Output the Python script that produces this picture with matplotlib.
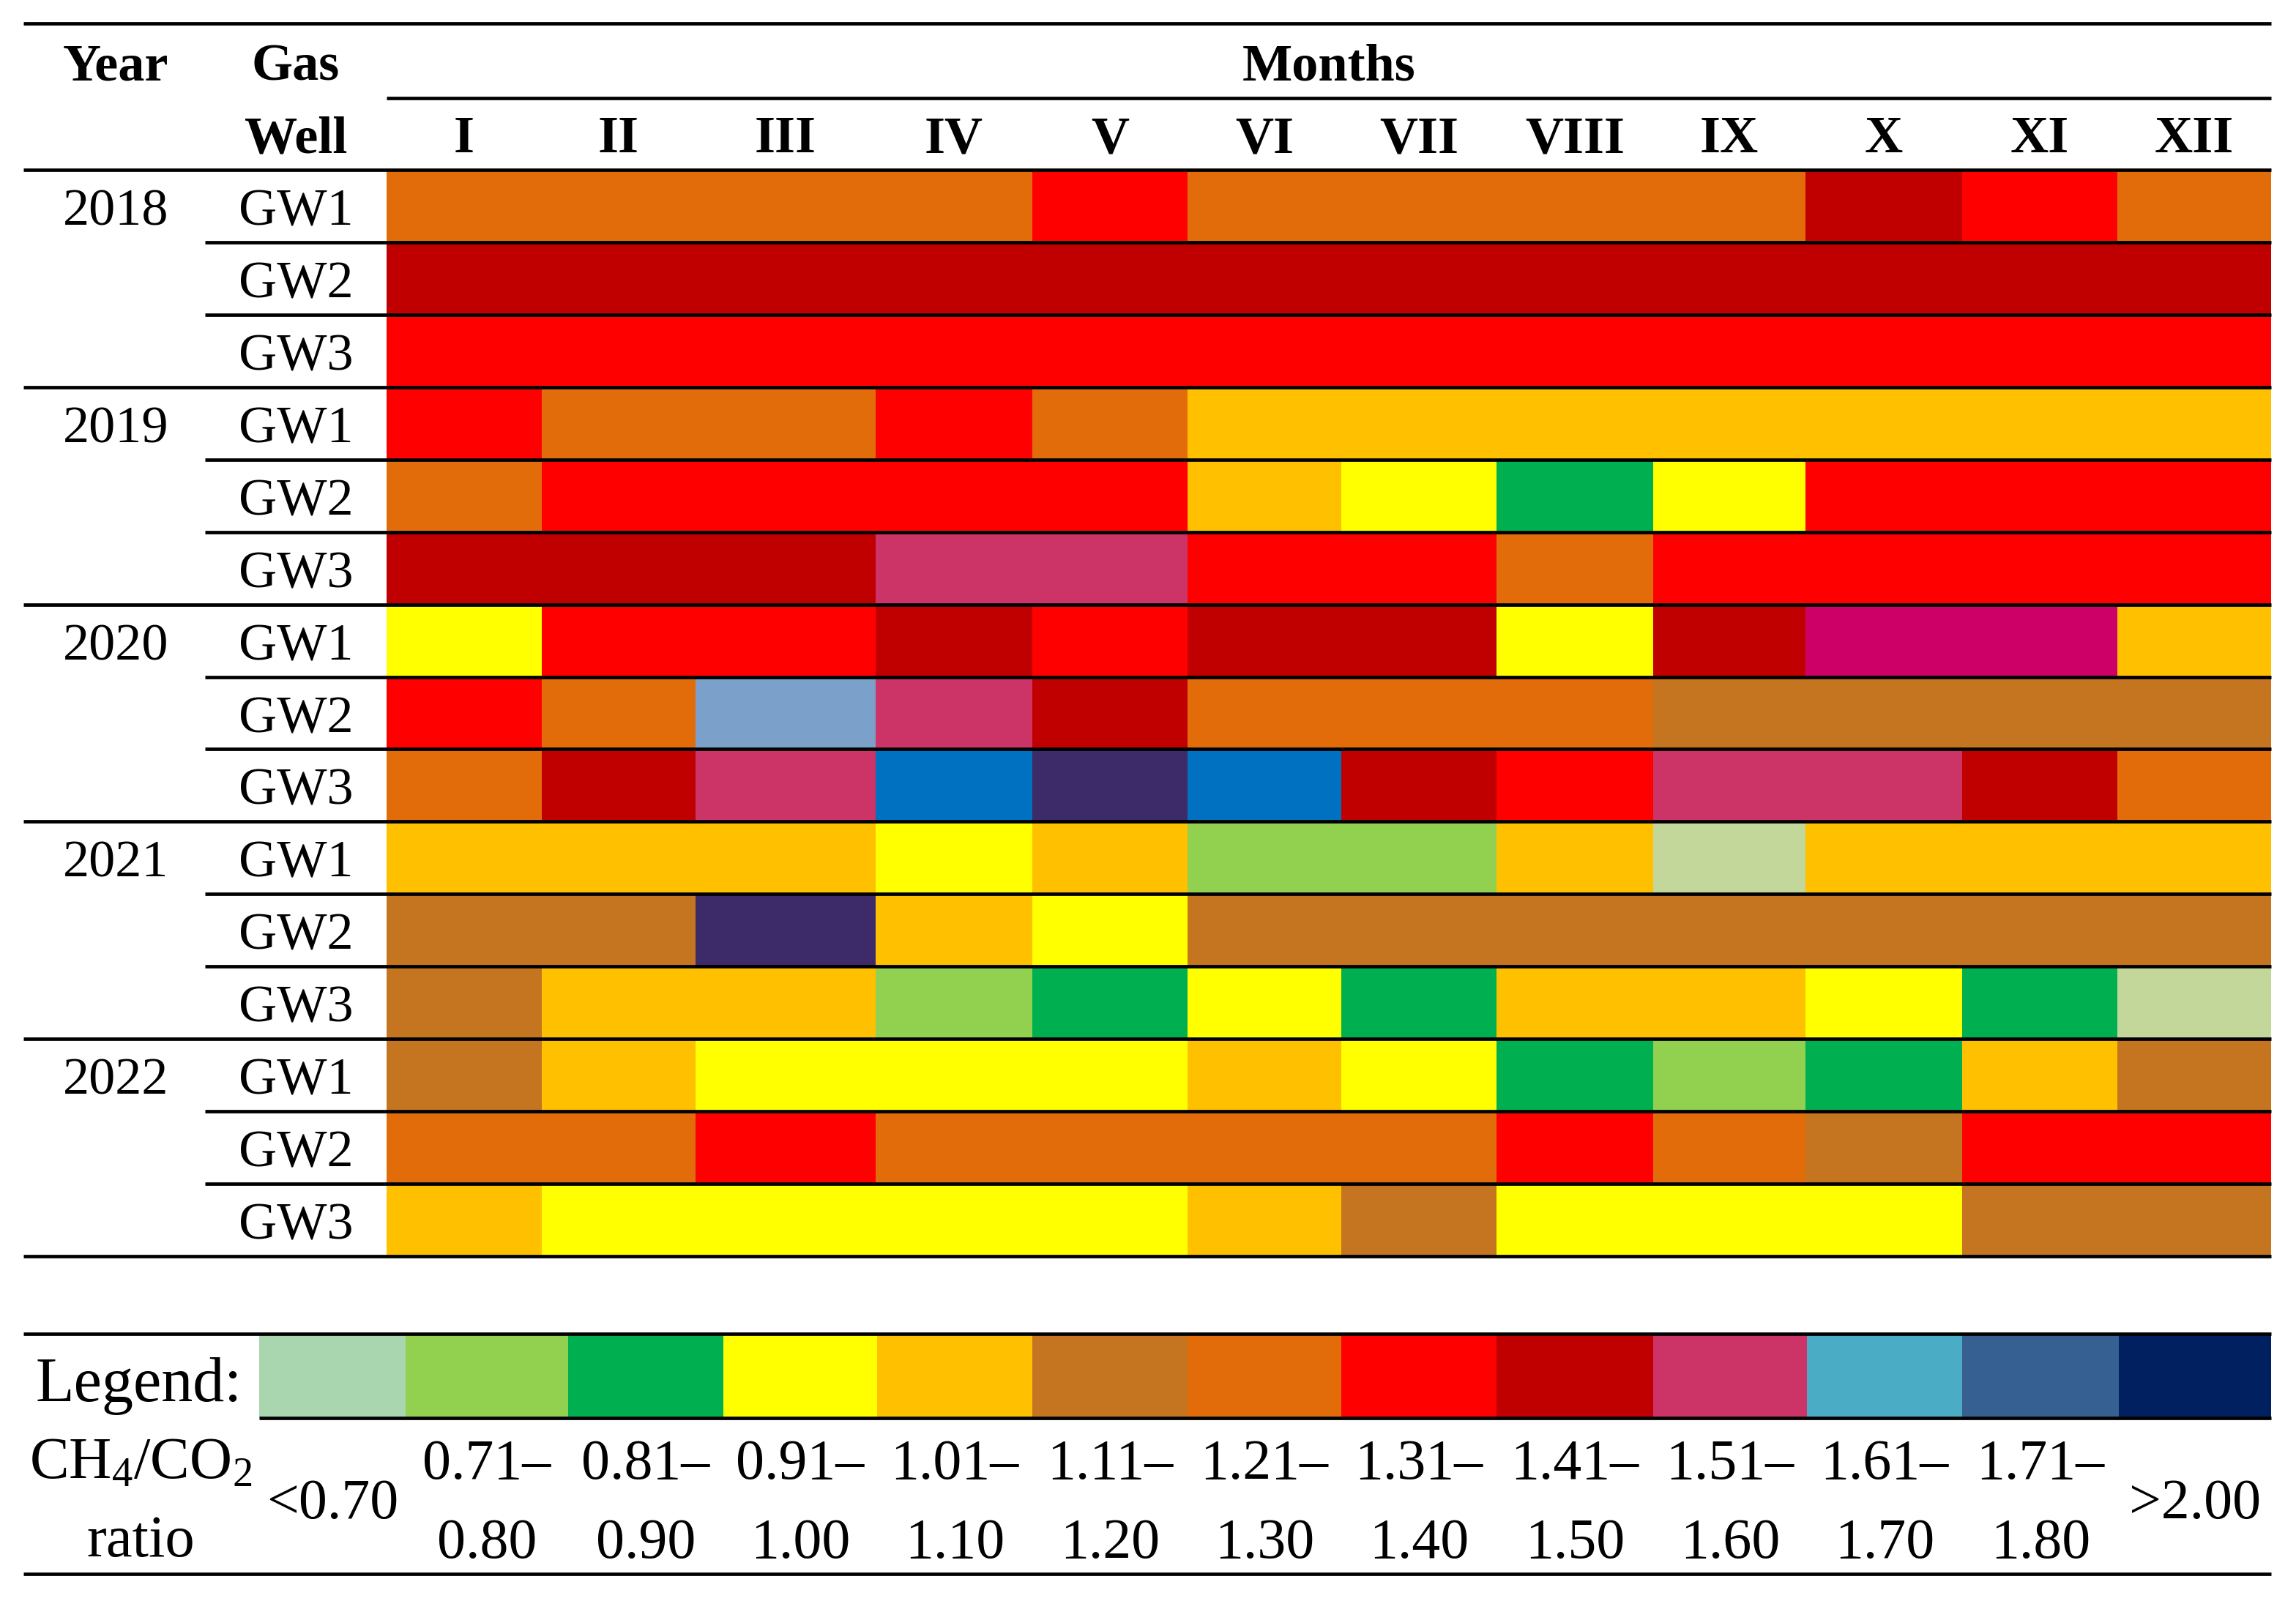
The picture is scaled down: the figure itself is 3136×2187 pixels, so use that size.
import numpy as np
import matplotlib
matplotlib.use("Agg")
import matplotlib.pyplot as plt
from matplotlib.colors import ListedColormap, BoundaryNorm

plt.rcParams['font.family'] = ['Liberation Serif', 'DejaVu Serif']
plt.rcParams['mathtext.fontset'] = 'custom'
plt.rcParams['mathtext.rm'] = 'Liberation Serif'
plt.rcParams['mathtext.it'] = 'Liberation Serif:italic'

# ---------------- data ----------------
months = ["I", "II", "III", "IV", "V", "VI", "VII", "VIII", "IX", "X", "XI", "XII"]
years = ["2018", "2019", "2020", "2021", "2022"]
wells = ["GW1", "GW2", "GW3"]

# colour classes (code -> colour); first 13 are the legend classes
class_codes = ["m", "l", "g", "y", "a", "b", "o", "r", "d", "p", "c", "s", "n"]
class_colors = ["#A9D5AF", "#92D050", "#00B050", "#FFFF00", "#FFC000", "#C5751F",
                "#E36C0A", "#FF0000", "#C00000", "#CC3366", "#4BACC6", "#366092", "#002060"]
legend_lo = ["<0.70", "0.71–", "0.81–", "0.91–", "1.01–", "1.11–", "1.21–",
             "1.31–", "1.41–", "1.51–", "1.61–", "1.71–", ">2.00"]
legend_hi = ["", "0.80", "0.90", "1.00", "1.10", "1.20", "1.30",
             "1.40", "1.50", "1.60", "1.70", "1.80", ""]
# extra shades that appear in the table
extra_codes = ["M", "L", "U", "V", "K"]
extra_colors = ["#CC0066", "#7BA0C9", "#0070C0", "#3D2A69", "#C4D79B"]

ratio_2018 = ["o o o o r o o o o d r o",
              "d d d d d d d d d d d d",
              "r r r r r r r r r r r r"]
ratio_2019 = ["r o o r o a a a a a a a",
              "o r r r r a y g y r r r",
              "d d d p p r r o r r r r"]
ratio_2020 = ["y r r d r d d y d M M a",
              "r o L p d o o o b b b b",
              "o d p U V U d r p p d o"]
ratio_2021 = ["a a a y a l l a K a a a",
              "b b V a y b b b b b b b",
              "b a a l g y g a a y g K"]
ratio_2022 = ["b a y y y a y g l g a b",
              "o o r o o o o r o b r r",
              "a y y y y a b y y y b b"]
ratio_rows = ratio_2018 + ratio_2019 + ratio_2020 + ratio_2021 + ratio_2022

# ---------------- build ----------------
all_codes = class_codes + extra_codes
all_colors = class_colors + extra_colors
code_idx = {c: i for i, c in enumerate(all_codes)}
C = np.array([[code_idx[c] for c in row.split()] for row in ratio_rows])
cmap = ListedColormap(all_colors)
norm = BoundaryNorm(np.arange(len(all_colors) + 1) - 0.5, len(all_colors))

W, H = 3136, 2187
fig = plt.figure(figsize=(W / 200, H / 200), dpi=200)
ax = fig.add_axes([0, 0, 1, 1])
ax.set_xlim(0, W)
ax.set_ylim(H, 0)
ax.axis('off')

# layout geometry (pixels)
x_left, x_right = 32, 3102
x_sub = 280
col_edges = np.array([528, 740, 950, 1196, 1410, 1622, 1832, 2044, 2258, 2466, 2680, 2892, 3102])
y_top, y_months, y_head = 32, 134, 232
y_bottom = 1716
n_rows = len(ratio_rows)
row_edges = np.linspace(y_head, y_bottom, n_rows + 1)
lw = 1.7

ax.pcolormesh(col_edges, row_edges, C, cmap=cmap, norm=norm, shading='flat',
              edgecolors='none', antialiased=False)

# rules
ax.hlines([y_top, y_head, y_bottom], x_left, x_right, color='black', lw=lw)
ax.hlines(y_months, col_edges[0], x_right, color='black', lw=lw)
for i in range(1, n_rows):
    if i % 3 == 0:
        ax.hlines(row_edges[i], x_left, x_right, color='black', lw=lw)
    else:
        ax.hlines(row_edges[i], x_sub, x_right, color='black', lw=lw)

fs = 26
x_year, x_well = 158, 404
ax.text(x_year, 110, "Year", ha='center', va='baseline', fontsize=fs, fontweight='bold')
ax.text(x_well, 110, "Gas", ha='center', va='baseline', fontsize=fs, fontweight='bold')
ax.text(x_well, 208, "Well", ha='center', va='baseline', fontsize=fs, fontweight='bold')
ax.text((col_edges[0] + col_edges[-1]) / 2, 110, "Months", ha='center', va='baseline',
        fontsize=fs, fontweight='bold')
col_centers = (col_edges[:-1] + col_edges[1:]) / 2
for xc, m in zip(col_centers, months):
    ax.text(xc, 208, m, ha='center', va='baseline', fontsize=fs, fontweight='bold')

row_centers = (row_edges[:-1] + row_edges[1:]) / 2
for gi, yr in enumerate(years):
    ax.text(x_year, row_centers[gi * 3] + 26, yr, ha='center', va='baseline', fontsize=fs)
    for wi, w in enumerate(wells):
        ax.text(x_well, row_centers[gi * 3 + wi] + 26, w, ha='center', va='baseline', fontsize=fs)

# ---------------- legend ----------------
leg_edges = np.array([354, 554, 776, 988, 1198, 1410, 1622, 1832, 2044, 2258, 2468, 2680, 2894, 3102])
y_leg_top, y_leg_sw = 1822, 1937
y_leg_bottom = 2150
ax.pcolormesh(leg_edges, [y_leg_top, y_leg_sw], np.arange(len(class_codes))[None, :],
              cmap=cmap, norm=norm, shading='flat', edgecolors='none', antialiased=False)
ax.hlines([y_leg_top, y_leg_bottom], x_left, x_right, color='black', lw=lw)
ax.hlines(y_leg_sw, leg_edges[0], x_right, color='black', lw=lw)

lfs = 28
ax.text(190, 1914, "Legend:", ha='center', va='baseline', fontsize=31)
ax.text(192, 2020, r"CH$_4$/CO$_2$", ha='center', va='baseline', fontsize=lfs + 1)
ax.text(192, 2126, "ratio", ha='center', va='baseline', fontsize=lfs + 1)
leg_centers = (leg_edges[:-1] + leg_edges[1:]) / 2
for xc, lo, hi in zip(leg_centers, legend_lo, legend_hi):
    if hi:
        ax.text(xc, 2020, lo, ha='center', va='baseline', fontsize=lfs)
        ax.text(xc, 2128, hi, ha='center', va='baseline', fontsize=lfs)
    else:
        ax.text(xc, 2074, lo, ha='center', va='baseline', fontsize=lfs)

fig.savefig("out.png", dpi=200, facecolor='white')
